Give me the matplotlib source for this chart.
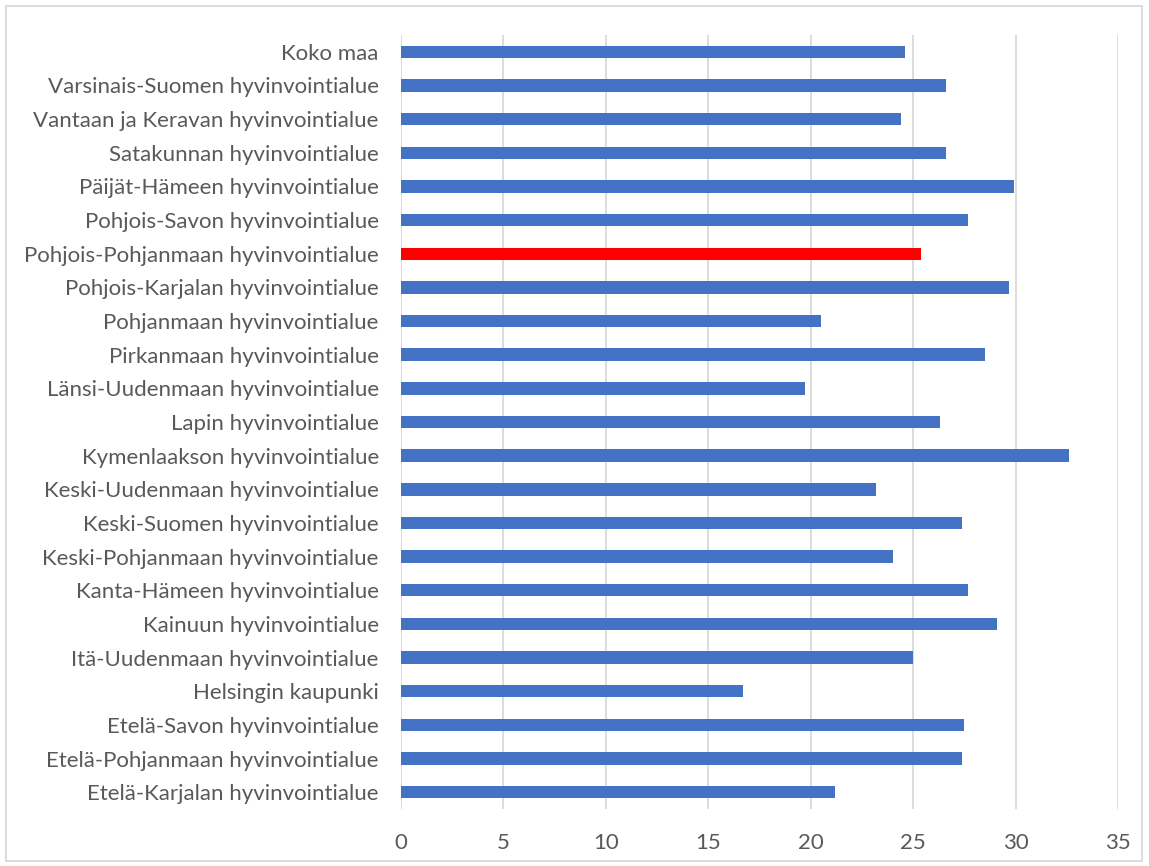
import matplotlib
matplotlib.use("Agg")
import matplotlib.pyplot as plt
from matplotlib.patches import Rectangle

# regions listed top to bottom as they appear in the chart
regions = [
    "Koko maa",
    "Varsinais-Suomen hyvinvointialue",
    "Vantaan ja Keravan hyvinvointialue",
    "Satakunnan hyvinvointialue",
    "Päijät-Hämeen hyvinvointialue",
    "Pohjois-Savon hyvinvointialue",
    "Pohjois-Pohjanmaan hyvinvointialue",
    "Pohjois-Karjalan hyvinvointialue",
    "Pohjanmaan hyvinvointialue",
    "Pirkanmaan hyvinvointialue",
    "Länsi-Uudenmaan hyvinvointialue",
    "Lapin hyvinvointialue",
    "Kymenlaakson hyvinvointialue",
    "Keski-Uudenmaan hyvinvointialue",
    "Keski-Suomen hyvinvointialue",
    "Keski-Pohjanmaan hyvinvointialue",
    "Kanta-Hämeen hyvinvointialue",
    "Kainuun hyvinvointialue",
    "Itä-Uudenmaan hyvinvointialue",
    "Helsingin kaupunki",
    "Etelä-Savon hyvinvointialue",
    "Etelä-Pohjanmaan hyvinvointialue",
    "Etelä-Karjalan hyvinvointialue",
]
values = [24.6, 26.6, 24.4, 26.6, 29.9, 27.7, 25.4, 29.7, 20.5, 28.5, 19.7, 26.3,
          32.6, 23.2, 27.4, 24.0, 27.7, 29.1, 25.0, 16.7, 27.5, 27.4, 21.2]
highlight = "Pohjois-Pohjanmaan hyvinvointialue"
xticks = [0, 5, 10, 15, 20, 25, 30, 35]

blue = "#4472C4"
red = "#FF0000"
text_col = "#595959"
grid_col = "#D9D9D9"

plt.rcParams["font.family"] = ["Lato", "DejaVu Sans"]

fig = plt.figure(figsize=(11.49, 8.66), dpi=100)
ax = fig.add_axes([401 / 1149, 1 - 809 / 866, (1118 - 401) / 1149, (809 - 35) / 866])

colors = [red if r == highlight else blue for r in regions]
ypos = list(range(len(regions)))
ax.barh(ypos, values, height=0.37, color=colors, zorder=3)

ax.set_ylim(len(regions) - 0.5, -0.5)
ax.set_xlim(0, 35)
ax.set_yticks(ypos)
ax.set_yticklabels(regions, fontsize=16, color=text_col)
ax.set_xticks(xticks)
ax.set_xticklabels([str(t) for t in xticks], fontsize=16, color=text_col)
ax.tick_params(axis="both", length=0)
ax.tick_params(axis="y", pad=16)
ax.tick_params(axis="x", pad=17)
ax.xaxis.grid(True, color=grid_col, linewidth=1.3, zorder=0)
for s in ax.spines.values():
    s.set_visible(False)

# thin frame round the whole chart
fig.patches.append(Rectangle((6 / 1149, 1 - 861 / 866), 1136 / 1149, 855 / 866,
                             transform=fig.transFigure, fill=False,
                             edgecolor=grid_col, linewidth=1.3))

fig.savefig("out.png", dpi=100)
